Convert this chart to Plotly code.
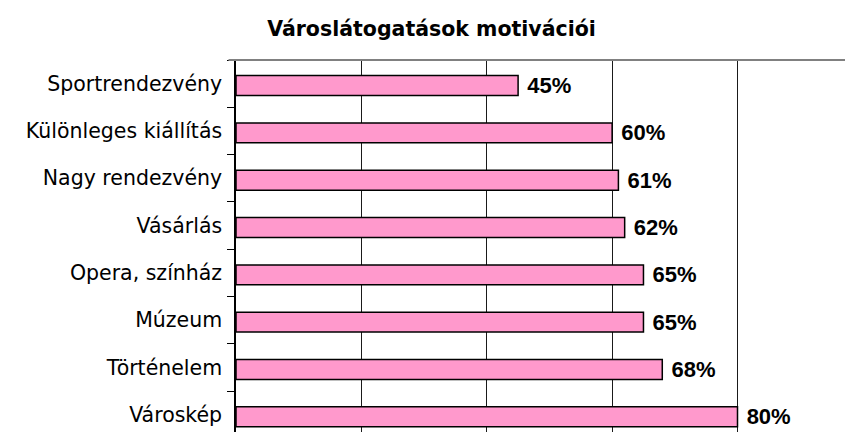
import plotly.graph_objects as go

categories = ["Sportrendezvény", "Különleges kiállítás", "Nagy rendezvény", "Vásárlás",
              "Opera, színház", "Múzeum", "Történelem", "Városkép"]
values = [45, 60, 61, 62, 65, 65, 68, 80]
title_text = "Városlátogatások motivációi"

fig = go.Figure()
fig.add_trace(go.Bar(
    x=values,
    y=categories,
    orientation="h",
    width=0.42,
    offset=-0.17,
    marker=dict(color="#FF99CC", line=dict(color="#000000", width=1.5)),
    texttemplate=" <b>%{x}%</b>",
    textposition="outside",
    textfont=dict(family="Liberation Sans", size=22, color="#000000"),
    constraintext="none",
    cliponaxis=False,
    hoverinfo="skip",
))

fig.update_layout(
    width=853, height=432,
    paper_bgcolor="white", plot_bgcolor="white",
    margin=dict(l=228, r=0, t=52, b=0, pad=0, autoexpand=False),
    showlegend=False,
    title=dict(text="<b>" + title_text + "</b>",
               font=dict(family="DejaVu Sans", size=20.5, color="#000000"),
               x=0.4965, xanchor="center", xref="container",
               y=1 - 21 / 432, yanchor="middle", yref="container",
               automargin=False),
    xaxis=dict(range=[0, 99.7], tick0=0, dtick=20, showgrid=True,
               gridcolor="#1a1a1a", gridwidth=1, showticklabels=False,
               zeroline=False, showline=False, ticks="", automargin=False),
    yaxis=dict(type="category", categoryorder="array", categoryarray=categories,
               range=[7.53, -0.5], showline=True, linecolor="#000000", linewidth=1.5,
               ticks="outside", ticklen=7, tickcolor="#000000", tickwidth=1,
               tickson="boundaries", showgrid=False, zeroline=False,
               tickfont=dict(family="DejaVu Sans", size=20.5, color="#000000"),
               ticklabelstandoff=8, automargin=False),
    shapes=[dict(type="line", xref="paper", yref="paper", x0=-0.012, x1=1, y0=1, y1=1,
                 line=dict(color="#808080", width=2), layer="above")],
)

fig.write_html("out.html")
